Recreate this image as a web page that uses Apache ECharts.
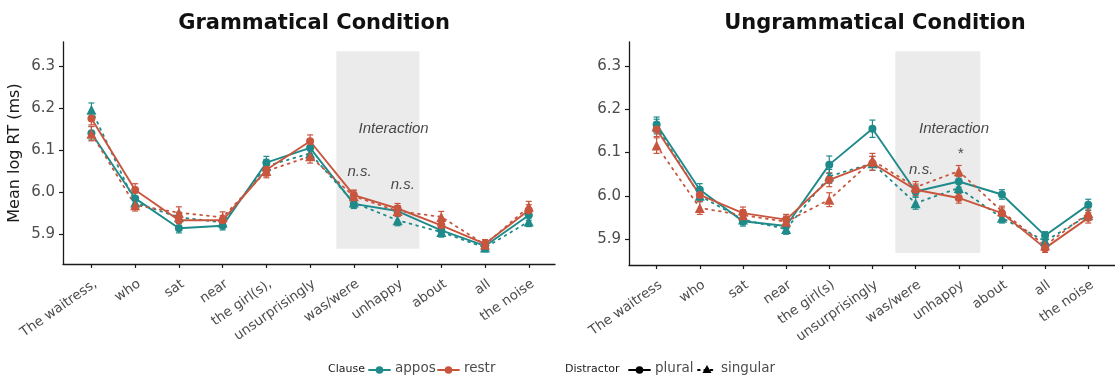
<!DOCTYPE html>
<html><head><meta charset="utf-8">
<script src="https://cdn.jsdelivr.net/npm/echarts@6/dist/echarts.min.js"></script>
<style>html,body{margin:0;padding:0;background:#fff}#c{width:1115px;height:381px}</style>
</head><body><div id="c"></div>
<script>
// ---- data ----
const catsGram = ['The waitress,','who','sat','near','the girl(s),','unsurprisingly','was/were','unhappy','about','all','the noise'];
const catsUngram = ['The waitress','who','sat','near','the girl(s)','unsurprisingly','was/were','unhappy','about','all','the noise'];
const yTicks = [5.9, 6.0, 6.1, 6.2, 6.3];

// Grammatical condition
const gApposPlural   = [6.140, 5.985, 5.914, 5.920, 6.070, 6.105, 5.972, 5.955, 5.909, 5.872, 5.945];
const gApposSingular = [6.196, 5.975, 5.940, 5.928, 6.062, 6.092, 5.975, 5.933, 5.905, 5.868, 5.930];
const gRestrPlural   = [6.175, 6.005, 5.933, 5.933, 6.053, 6.121, 5.993, 5.961, 5.921, 5.877, 5.957];
const gRestrSingular = [6.139, 5.969, 5.951, 5.940, 6.050, 6.085, 5.990, 5.955, 5.941, 5.875, 5.965];
const gApposPluralSE   = [0.016, 0.013, 0.011, 0.010, 0.015, 0.015, 0.011, 0.012, 0.011, 0.009, 0.012];
const gApposSingularSE = [0.016, 0.013, 0.012, 0.011, 0.016, 0.015, 0.012, 0.013, 0.012, 0.010, 0.012];
const gRestrPluralSE   = [0.015, 0.015, 0.012, 0.011, 0.015, 0.015, 0.012, 0.012, 0.012, 0.010, 0.013];
const gRestrSingularSE = [0.017, 0.014, 0.014, 0.013, 0.016, 0.016, 0.013, 0.013, 0.013, 0.011, 0.013];

// Ungrammatical condition
const uApposPlural   = [6.165, 6.014, 5.941, 5.930, 6.072, 6.155, 6.010, 6.033, 6.003, 5.908, 5.979];
const uApposSingular = [6.160, 6.000, 5.945, 5.923, 6.045, 6.075, 5.983, 6.018, 5.949, 5.895, 5.955];
const uRestrPlural   = [6.153, 6.002, 5.960, 5.945, 6.037, 6.075, 6.014, 5.995, 5.960, 5.879, 5.949];
const uRestrSingular = [6.116, 5.972, 5.955, 5.940, 5.991, 6.082, 6.020, 6.057, 5.964, 5.885, 5.960];
const uApposPluralSE   = [0.017, 0.014, 0.011, 0.011, 0.020, 0.020, 0.013, 0.013, 0.011, 0.009, 0.013];
const uApposSingularSE = [0.017, 0.014, 0.012, 0.012, 0.016, 0.016, 0.014, 0.013, 0.012, 0.010, 0.012];
const uRestrPluralSE   = [0.016, 0.014, 0.014, 0.012, 0.016, 0.016, 0.013, 0.012, 0.012, 0.010, 0.012];
const uRestrSingularSE = [0.018, 0.015, 0.013, 0.013, 0.016, 0.016, 0.013, 0.013, 0.012, 0.010, 0.012];

// annotations (data coordinates) and shaded region (category index range)
const gAnnotations = [{x: 6.91, y: 6.150, text: 'Interaction'}, {x: 6.13, y: 6.048, text: 'n.s.'}, {x: 7.12, y: 6.017, text: 'n.s.'}];
const uAnnotations = [{x: 6.89, y: 6.154, text: 'Interaction'}, {x: 6.13, y: 6.060, text: 'n.s.'}, {x: 7.03, y: 6.097, text: '*'}];
const gShade = {x0: 5.6, x1: 7.5, y0: 5.865, y1: 6.335};
const uShade = {x0: 5.53, x1: 7.5, y0: 5.868, y1: 6.334};

// ---- styles ----
const TEAL = '#1f8a8a';
const RED = '#c8553d';
const FONT = 'DejaVu Sans';
const TXT = '#4d4d4d';

const chart = echarts.init(document.getElementById('c'), null, {renderer: 'canvas'});

function xAxisFor(grid, cats, min, max) {
  const idx = cats.map((_, i) => i);
  return {
    type: 'value', gridIndex: grid, min: min, max: max,
    splitLine: {show: false},
    axisLine: {show: true, onZero: false, lineStyle: {color: '#1a1a1a', width: 1.3}},
    axisTick: {show: true, customValues: idx, length: 4, lineStyle: {color: '#1a1a1a', width: 1.2}},
    axisLabel: {customValues: idx, formatter: v => cats[Math.round(v)], rotate: 35, align: 'right', verticalAlign: 'top',
      fontFamily: FONT, fontSize: 13.5, color: TXT, margin: 13}
  };
}
function yAxisFor(grid, min, max, name) {
  return {
    type: 'value', gridIndex: grid, min: min, max: max,
    name: name || '', nameLocation: 'middle', nameGap: 40, nameRotate: 90,
    nameTextStyle: {fontFamily: FONT, fontSize: 16, color: '#1a1a1a'},
    splitLine: {show: false},
    axisLine: {show: true, onZero: false, lineStyle: {color: '#1a1a1a', width: 1.3}},
    axisTick: {show: true, customValues: yTicks, length: 4, lineStyle: {color: '#1a1a1a', width: 1.2}},
    axisLabel: {customValues: yTicks, formatter: v => v.toFixed(1), fontFamily: FONT, fontSize: 15, color: TXT, margin: 8}
  };
}

function lineSeries(grid, vals, color, singular) {
  return {
    type: 'line', xAxisIndex: grid, yAxisIndex: grid, z: 4,
    data: vals.map((v, i) => [i, v]),
    symbol: singular ? 'triangle' : 'circle',
    symbolSize: singular ? 10 : 8,
    showSymbol: true,
    itemStyle: {color: color},
    lineStyle: {color: color, width: singular ? 1.8 : 1.9, type: singular ? [1.8, 5] : 'solid', cap: 'round'},
    emphasis: {disabled: true},
    animation: false
  };
}
function errSeries(grid, vals, se, color) {
  return {
    type: 'custom', xAxisIndex: grid, yAxisIndex: grid, z: 3,
    data: vals.map((v, i) => [i, v - se[i], v + se[i]]),
    renderItem: function (params, api) {
      const lo = api.coord([api.value(0), api.value(1)]);
      const hi = api.coord([api.value(0), api.value(2)]);
      const w = 3;
      const st = {stroke: color, lineWidth: 1.2};
      return {type: 'group', children: [
        {type: 'line', shape: {x1: lo[0], y1: lo[1], x2: hi[0], y2: hi[1]}, style: st},
        {type: 'line', shape: {x1: lo[0] - w, y1: lo[1], x2: lo[0] + w, y2: lo[1]}, style: st},
        {type: 'line', shape: {x1: hi[0] - w, y1: hi[1], x2: hi[0] + w, y2: hi[1]}, style: st}
      ]};
    },
    animation: false
  };
}
function shadeSeries(grid, s) {
  return {
    type: 'line', xAxisIndex: grid, yAxisIndex: grid, z: 1, data: [],
    markArea: {silent: true, itemStyle: {color: '#ebebeb'}, data: [[{xAxis: s.x0, yAxis: s.y0}, {xAxis: s.x1, yAxis: s.y1}]]},
    animation: false
  };
}
function annSeries(grid, anns) {
  return {
    type: 'scatter', xAxisIndex: grid, yAxisIndex: grid, z: 5, symbolSize: 0,
    data: anns.map(a => ({value: [a.x, a.y], name: a.text})),
    label: {show: true, position: 'inside', formatter: '{b}', fontFamily: 'Liberation Sans',
      fontStyle: 'italic', fontSize: 15, color: '#1a1a1a'},
    emphasis: {disabled: true}, animation: false
  };
}

const series = [];
[[0, gApposPlural, gApposPluralSE, TEAL, false], [0, gApposSingular, gApposSingularSE, TEAL, true],
 [0, gRestrPlural, gRestrPluralSE, RED, false], [0, gRestrSingular, gRestrSingularSE, RED, true],
 [1, uApposPlural, uApposPluralSE, TEAL, false], [1, uApposSingular, uApposSingularSE, TEAL, true],
 [1, uRestrPlural, uRestrPluralSE, RED, false], [1, uRestrSingular, uRestrSingularSE, RED, true]
].forEach(([g, v, se, c, sg]) => {
  series.push(errSeries(g, v, se, c));
  series.push(lineSeries(g, v, c, sg));
});
series.push(shadeSeries(0, gShade), shadeSeries(1, uShade));
series.push(annSeries(0, gAnnotations), annSeries(1, uAnnotations));

// legend drawn as graphic
const LY = 370;
const legend = [];
function ltext(x, t, size, color) {
  legend.push({type: 'text', left: x, top: LY - size * 0.62, style: {text: t, fontFamily: FONT, fontSize: size, fill: color}});
}
function lkey(x, color, singular, w) {
  legend.push({type: 'line', shape: {x1: x, y1: LY, x2: x + w, y2: LY},
    style: {stroke: color, lineWidth: 1.8, lineDash: singular ? [1.8, 4.5] : null, lineCap: 'round'}});
  if (singular) {
    legend.push({type: 'polygon', shape: {points: [[x + w / 2, LY - 5], [x + w / 2 + 4.5, LY + 3], [x + w / 2 - 4.5, LY + 3]]}, style: {fill: color}});
  } else {
    legend.push({type: 'circle', shape: {cx: x + w / 2, cy: LY, r: 3.8}, style: {fill: color}});
  }
}
ltext(328, 'Clause', 11, '#1a1a1a');
lkey(369, TEAL, false, 21);
ltext(395, 'appos', 13.5, TXT);
lkey(438, RED, false, 21);
ltext(464, 'restr', 13.5, TXT);
ltext(565, 'Distractor', 11, '#1a1a1a');
lkey(629, '#000', false, 21);
ltext(655, 'plural', 13.5, TXT);
lkey(698, '#000', true, 18);
ltext(721, 'singular', 13.5, TXT);

chart.setOption({
  backgroundColor: '#fff',
  animation: false,
  title: [
    {text: 'Grammatical Condition', left: 309, top: 8, textAlign: 'center',
     textStyle: {fontFamily: FONT, fontWeight: 'bold', fontSize: 21, color: '#111'}},
    {text: 'Ungrammatical Condition', left: 870, top: 8, textAlign: 'center',
     textStyle: {fontFamily: FONT, fontWeight: 'bold', fontSize: 21, color: '#111'}}
  ],
  grid: [
    {left: 63, top: 42, width: 492, height: 222},
    {left: 629, top: 42, width: 492, height: 223}
  ],
  xAxis: [xAxisFor(0, catsGram, -0.65, 10.6), xAxisFor(1, catsUngram, -0.64, 10.62)],
  yAxis: [yAxisFor(0, 5.829, 6.357, 'Mean log RT (ms)'), yAxisFor(1, 5.84, 6.3555)],
  series: series,
  graphic: legend
});
</script></body></html>
